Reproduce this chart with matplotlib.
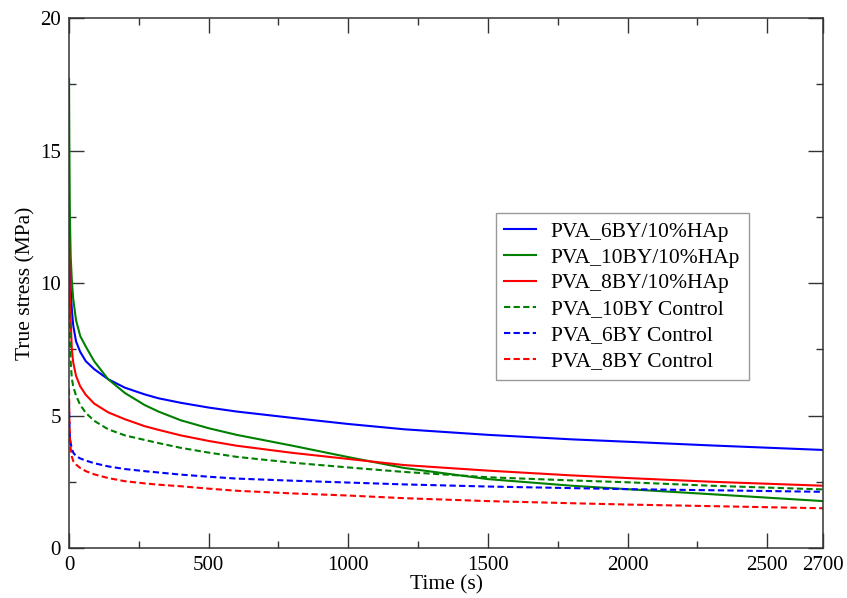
import matplotlib
matplotlib.use("Agg")
import matplotlib.pyplot as plt
from matplotlib.ticker import MultipleLocator, FixedLocator

plt.rcParams['font.family'] = ['Liberation Serif', 'DejaVu Serif']

time = [0, 1, 3, 6, 10, 15, 25, 40, 60, 90, 140, 200, 270, 320, 400, 500, 600,
        800, 1000, 1200, 1500, 1800, 2000, 2300, 2700]

# true stress (MPa)
hap_6by = [13.0, 12.0, 10.8, 9.8, 9.0, 8.4, 7.8, 7.4, 7.05, 6.75, 6.37, 6.05, 5.8,
           5.65, 5.48, 5.3, 5.15, 4.91, 4.68, 4.48, 4.27, 4.1, 4.01, 3.87, 3.70]
hap_10by = [17.7, 15.5, 12.5, 11.0, 10.1, 9.4, 8.6, 8.0, 7.6, 7.05, 6.37, 5.85, 5.4,
            5.15, 4.82, 4.52, 4.27, 3.86, 3.43, 3.02, 2.6, 2.35, 2.22, 2.03, 1.77]
hap_8by = [11.7, 10.8, 9.5, 8.6, 7.5, 7.0, 6.5, 6.1, 5.78, 5.45, 5.12, 4.86, 4.6,
           4.46, 4.25, 4.04, 3.86, 3.59, 3.36, 3.13, 2.92, 2.74, 2.64, 2.50, 2.35]
ctrl_10by = [9.6, 8.8, 8.0, 7.0, 6.4, 6.1, 5.75, 5.4, 5.1, 4.8, 4.48, 4.25, 4.08,
             3.96, 3.78, 3.6, 3.44, 3.22, 3.04, 2.87, 2.67, 2.55, 2.48, 2.35, 2.21]
ctrl_6by = [5.5, 4.9, 4.2, 3.95, 3.75, 3.6, 3.47, 3.38, 3.3, 3.2, 3.08, 2.98, 2.9,
            2.85, 2.77, 2.69, 2.62, 2.54, 2.47, 2.40, 2.32, 2.26, 2.22, 2.18, 2.12]
ctrl_8by = [6.0, 5.0, 4.2, 3.75, 3.45, 3.28, 3.15, 3.02, 2.9, 2.78, 2.64, 2.52, 2.44,
            2.39, 2.33, 2.24, 2.16, 2.06, 1.98, 1.88, 1.77, 1.69, 1.64, 1.58, 1.50]

xticks = [0, 500, 1000, 1500, 2000, 2500, 2700]
xminor = [250, 750, 1250, 1750, 2250]

fig = plt.figure(figsize=(8.47, 5.98), dpi=100)
ax = fig.add_axes([0.0815, 0.0836, 0.8902, 0.8863])

dash = (0, (3, 1.6))
ax.plot(time, hap_6by, color='#0000ff', lw=1.5, label='PVA_6BY/10%HAp')
ax.plot(time, hap_10by, color='#008000', lw=1.5, label='PVA_10BY/10%HAp')
ax.plot(time, hap_8by, color='#ff0000', lw=1.5, label='PVA_8BY/10%HAp')
ax.plot(time, ctrl_10by, color='#008000', lw=1.5, ls=dash, label='PVA_10BY Control')
ax.plot(time, ctrl_6by, color='#0000ff', lw=1.5, ls=dash, label='PVA_6BY Control')
ax.plot(time, ctrl_8by, color='#ff0000', lw=1.5, ls=dash, label='PVA_8BY Control')

ax.set_xlim(0, 2700)
ax.set_ylim(0, 20)
ax.xaxis.set_major_locator(FixedLocator(xticks))
ax.xaxis.set_minor_locator(FixedLocator(xminor))
ax.yaxis.set_major_locator(MultipleLocator(5))
ax.yaxis.set_minor_locator(MultipleLocator(2.5))

for s in ax.spines.values():
    s.set_color('#333333')
    s.set_linewidth(1.1)
ax.tick_params(which='both', direction='in', top=True, right=True,
               color='#333333', width=1.0, labelsize=15)
ax.tick_params(which='major', length=11, pad=6)
ax.tick_params(which='minor', length=5)

ax.set_xlabel('Time (s)', fontsize=15.5, labelpad=0)
ax.set_ylabel('True stress (MPa)', fontsize=15.5, labelpad=3)

leg = ax.legend(loc='upper left', bbox_to_anchor=(0.566, 0.632), fontsize=15.5,
                frameon=True, fancybox=False, framealpha=1, edgecolor='#999999',
                handlelength=1.45, labelspacing=0.27, borderpad=0.4,
                handletextpad=0.7, borderaxespad=0)
leg.get_frame().set_linewidth(1.0)

fig.savefig('out.png', dpi=100)
